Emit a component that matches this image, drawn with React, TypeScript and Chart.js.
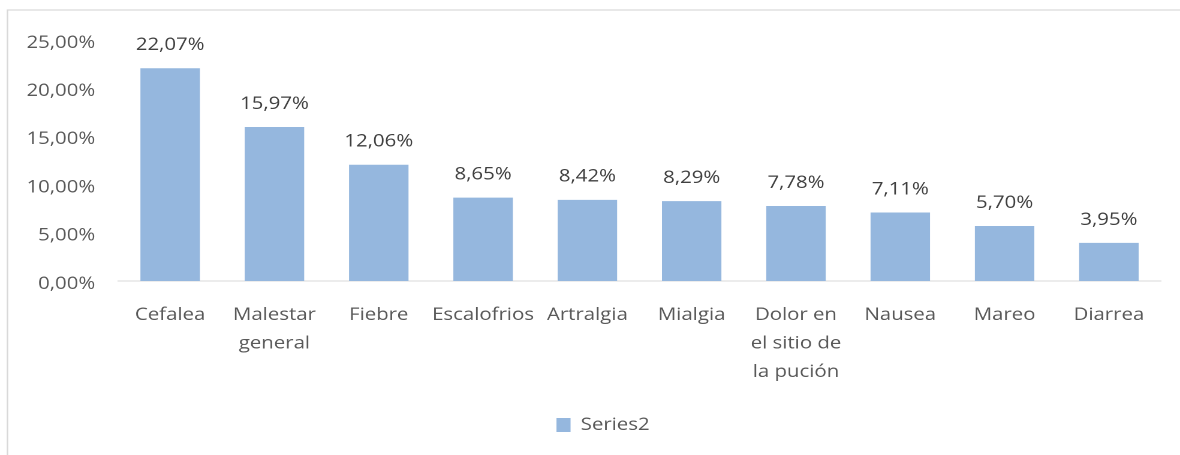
import React, { useEffect, useRef } from "react";
import { Chart, registerables } from "chart.js";

Chart.register(...registerables);

const categories: (string | string[])[] = [
  "Cefalea",
  ["Malestar", "general"],
  "Fiebre",
  "Escalofrios",
  "Artralgia",
  "Mialgia",
  ["Dolor en", "el sitio de", "la pución"],
  "Nausea",
  "Mareo",
  "Diarrea",
];
const seriesName = "Series2";
const seriesValues = [22.07, 15.97, 12.06, 8.65, 8.42, 8.29, 7.78, 7.11, 5.7, 3.95];
const yTicks = [0, 5, 10, 15, 20, 25];

const CANVAS_W = 984;
const CANVAS_H = 455;
const STRETCH = 1180 / CANVAS_W;
const FONT = "'Open Sans', 'DejaVu Sans', sans-serif";
const LEGEND_SHIFT = 18.8;

const fmt = (v: number) => v.toFixed(2).replace(".", ",") + "%";

const borderPlugin = {
  id: "outerBorder",
  beforeDraw(chart: any) {
    const ctx = chart.ctx;
    ctx.save();
    ctx.fillStyle = "#ffffff";
    ctx.fillRect(0, 0, chart.width, chart.height);
    ctx.strokeStyle = "#d9d9d9";
    ctx.lineWidth = 1.2;
    ctx.strokeRect(6.2, 10, chart.width * 2, chart.height * 2);
    ctx.restore();
  },
};

const legendShiftPlugin = {
  id: "legendShift",
  afterLayout(chart: any) {
    const lg = chart.legend;
    if (lg) {
      lg.left += LEGEND_SHIFT;
      lg.right += LEGEND_SHIFT;
    }
  },
};

const dataLabelPlugin = {
  id: "dataLabels",
  afterDatasetsDraw(chart: any) {
    const ctx = chart.ctx;
    const meta = chart.getDatasetMeta(0);
    ctx.save();
    ctx.font = `17px ${FONT}`;
    ctx.fillStyle = "#404040";
    ctx.textAlign = "center";
    ctx.textBaseline = "middle";
    meta.data.forEach((bar: any, i: number) => {
      ctx.fillText(fmt(seriesValues[i]), bar.x, bar.y - 23);
    });
    ctx.restore();
  },
};

export default function App() {
  const ref = useRef<HTMLCanvasElement | null>(null);

  useEffect(() => {
    if (!ref.current) return;
    const chart = new Chart(ref.current, {
      type: "bar",
      data: {
        labels: categories,
        datasets: [
          {
            label: seriesName,
            data: seriesValues,
            backgroundColor: "#95b7de",
            borderWidth: 0,
            categoryPercentage: 1,
            barPercentage: 0.57,
          },
        ],
      },
      options: {
        responsive: false,
        animation: false,
        devicePixelRatio: 2,
        layout: { padding: { top: 40, left: 0, right: 15.8, bottom: 11.5 } },
        plugins: {
          legend: {
            display: true,
            position: "bottom",
            labels: {
              boxWidth: 11.7,
              boxHeight: 14,
              padding: 10,
              color: "#595959",
              font: { family: FONT, size: 17 },
            },
          },
          tooltip: { enabled: false },
        },
        scales: {
          x: {
            grid: { display: false, drawTicks: false },
            border: { display: true, color: "#d9d9d9", width: 1 },
            ticks: {
              color: "#595959",
              padding: 20,
              maxRotation: 0,
              autoSkip: false,
              font: { family: FONT, size: 17, lineHeight: 1.68 },
            },
            afterFit(scale: any) {
              scale.height = 125.5;
            },
          },
          y: {
            min: 0,
            max: 25,
            grid: { display: false, drawTicks: false },
            border: { display: false },
            afterBuildTicks(scale: any) {
              scale.ticks = yTicks.map((v) => ({ value: v }));
            },
            ticks: {
              color: "#595959",
              padding: 19,
              labelOffset: 3,
              font: { family: FONT, size: 17, lineHeight: 1.2 },
              callback: (v: any) => fmt(Number(v)),
            },
            afterFit(scale: any) {
              scale.width = 98.4;
            },
          },
        },
      },
      plugins: [borderPlugin, legendShiftPlugin, dataLabelPlugin],
    });
    return () => chart.destroy();
  }, []);

  return (
    <div
      style={{
        position: "absolute",
        left: 0,
        top: 0,
        width: 1180,
        height: 455,
        overflow: "hidden",
        background: "#ffffff",
      }}
    >
      <div
        style={{
          width: CANVAS_W,
          height: CANVAS_H,
          transform: `scaleX(${STRETCH})`,
          transformOrigin: "0 0",
        }}
      >
        <canvas
          ref={ref}
          width={CANVAS_W}
          height={CANVAS_H}
          style={{ display: "block", width: CANVAS_W, height: CANVAS_H }}
        />
      </div>
    </div>
  );
}
